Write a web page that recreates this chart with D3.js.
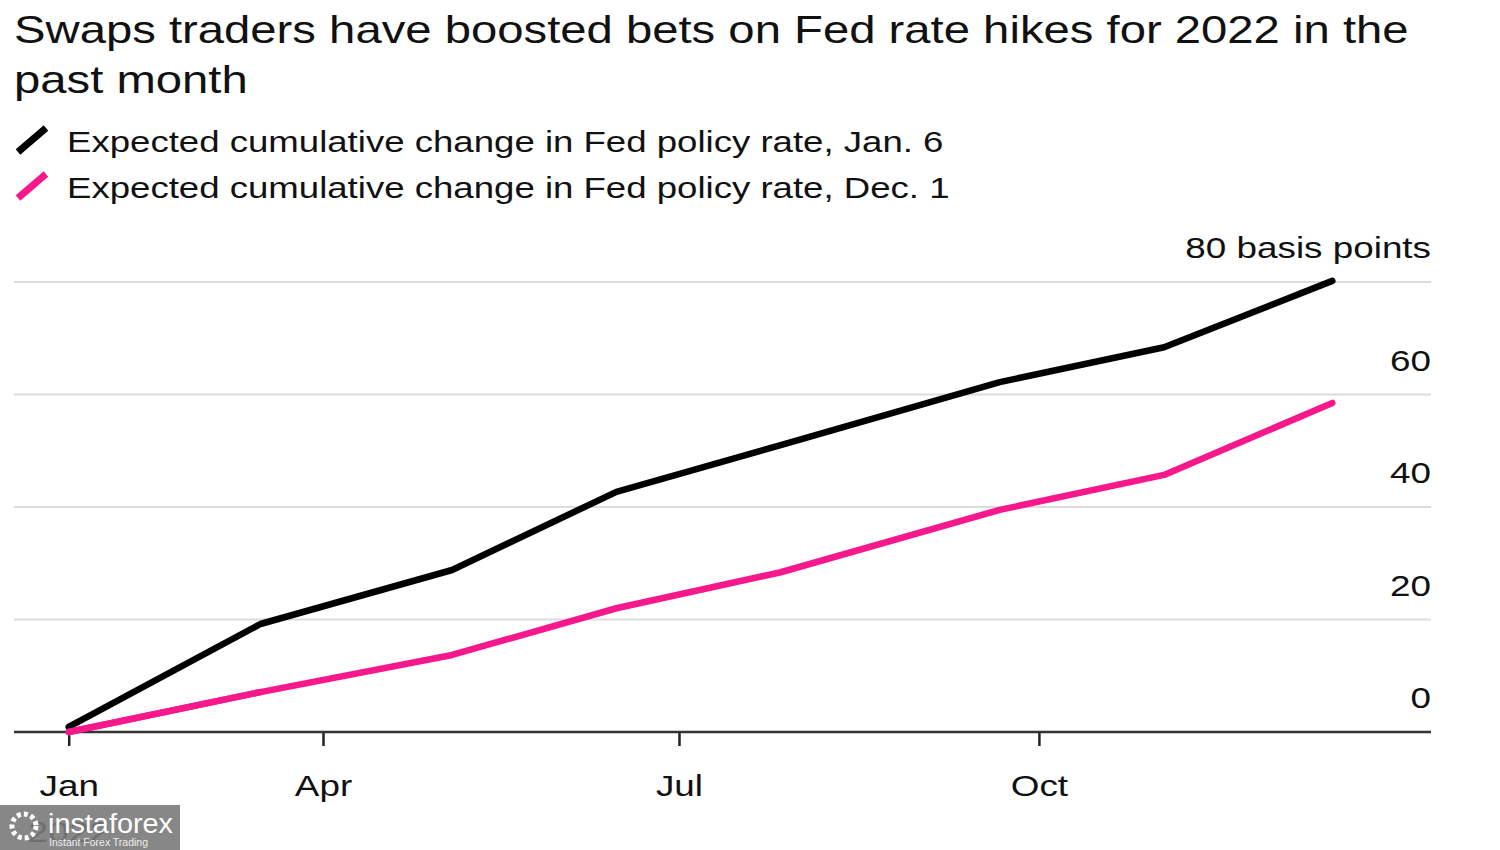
<!DOCTYPE html>
<html><head><meta charset="utf-8">
<script src="https://cdn.jsdelivr.net/npm/d3@7"></script>
<style>body{margin:0;background:#fff;} svg{display:block;} text{font-family:"Liberation Sans",Arial,Helvetica,sans-serif;fill:#111;}</style>
</head><body>
<svg id="c" width="1500" height="850"></svg>
<script>
const dates = ["2022-01-26","2022-03-16","2022-05-04","2022-06-15","2022-07-27","2022-09-21","2022-11-02","2022-12-15"];
const jan6 = [0.9, 19.2, 28.8, 42.7, 51.0, 62.2, 68.4, 80.2];
const dec1 = [0, 7.1, 13.7, 22.0, 28.4, 39.5, 45.7, 58.5];
const yTicks = [0, 20, 40, 60, 80];
const xTickDates = ["2022-01-26","2022-04-01","2022-07-01","2022-10-01"];
const xTickLabels = ["Jan","Apr","Jul","Oct"];
const seriesNames = ["Expected cumulative change in Fed policy rate, Jan. 6","Expected cumulative change in Fed policy rate, Dec. 1"];
const colors = ["#000000","#f7198c"];
const title = ["Swaps traders have boosted bets on Fed rate hikes for 2022 in the","past month"];

const SX = 1.228; // horizontal stretch of the reference lettering
const parse = d3.timeParse("%Y-%m-%d");
const svg = d3.select("#c");
const left = 14, right = 1431;
const x = d3.scaleTime().domain([parse("2022-04-01"), parse("2022-07-01")]).range([323, 679]);
const y = d3.scaleLinear().domain([0, 80]).range([732, 282]);
const place = (tx, ty, s) => `translate(${tx},${ty}) scale(${s||SX},1)`;

// title
svg.append("g").selectAll("text").data(title).join("text")
  .attr("transform", (d,i)=>place(14, 43+i*50, 1.234)).style("font-size","38.3px").text(d=>d);

// legend
const lg = svg.append("g");
seriesNames.forEach((n,i)=>{
  const yy = 140 + i*46;
  lg.append("line").attr("x1",18).attr("y1",yy+12).attr("x2",46).attr("y2",yy-12)
    .attr("stroke",colors[i]).attr("stroke-width",7);
  lg.append("text").attr("transform",place(67,yy+12,1.228)).style("font-size","29.8px").text(n);
});

// grid
svg.append("g").selectAll("line").data(yTicks.filter(d=>d>0)).join("line")
  .attr("x1",left).attr("x2",right).attr("y1",d=>y(d)).attr("y2",d=>y(d))
  .attr("stroke","#dcdcdc").attr("stroke-width",2);
svg.append("g").selectAll("text").data(yTicks).join("text")
  .attr("transform",d=>place(right, y(d)-24)).attr("text-anchor","end").style("font-size","30px")
  .text(d=>d===80 ? "80 basis points" : d);

// x axis
const xa = svg.append("g").attr("transform",`translate(0,${y(0)})`)
  .call(d3.axisBottom(x).tickValues(xTickDates.map(parse)).tickSize(14).tickFormat((d,i)=>xTickLabels[i]));
xa.select(".domain").remove();
xa.selectAll(".tick line").attr("stroke","#222").attr("stroke-width",2.5);
xa.selectAll(".tick text").attr("dy",0).attr("y",0).attr("transform",`translate(0,64) scale(${SX},1)`)
  .style("font-size","30px").attr("fill","#111").attr("font-family","Liberation Sans, Arial, sans-serif");
svg.append("text").attr("transform",place(x(parse(xTickDates[0])),842)).attr("text-anchor","middle").style("font-size","30px").text("2022");

// lines
const lineGen = d3.line().x((d,i)=>x(parse(dates[i]))).y(d=>y(d));
[jan6, dec1].forEach((s,k)=>{
  svg.append("path").attr("d", lineGen(s)).attr("fill","none").attr("stroke",colors[k])
    .attr("stroke-width",6.5).attr("stroke-linecap","round").attr("stroke-linejoin","round");
});
// baseline
svg.append("line").attr("x1",left).attr("x2",right).attr("y1",y(0)).attr("y2",y(0)).attr("stroke","#333").attr("stroke-width",2.5);
svg.append("path").attr("d", lineGen(dec1.slice(0,2))).attr("fill","none").attr("stroke",colors[1])
  .attr("stroke-width",6.5).attr("stroke-linecap","round");

// watermark
const wm = svg.append("g");
wm.append("rect").attr("x",0).attr("y",805).attr("width",180).attr("height",45).attr("fill","#7a7a7a").attr("opacity",0.9);
wm.append("circle").attr("cx",24).attr("cy",826).attr("r",12).attr("fill","none").attr("stroke","#fff").attr("stroke-width",5).attr("stroke-dasharray","4 3");
wm.append("text").attr("x",48).attr("y",833).style("font-size","27px").style("fill","#fff").attr("textLength",125).attr("lengthAdjust","spacingAndGlyphs").text("instaforex");
wm.append("text").attr("x",49).attr("y",846).style("font-size","10px").style("fill","#eee").attr("textLength",99).attr("lengthAdjust","spacingAndGlyphs").text("Instant Forex Trading");
</script>
</body></html>
